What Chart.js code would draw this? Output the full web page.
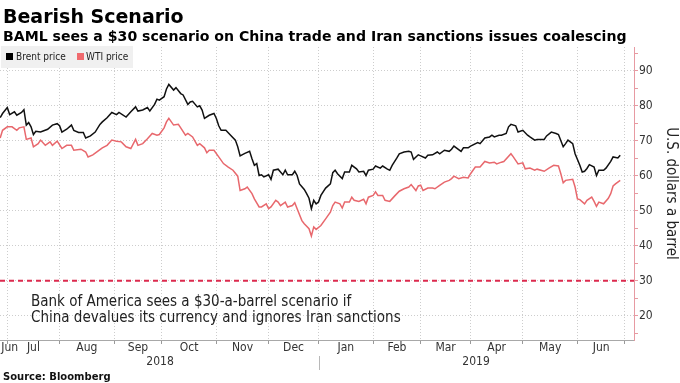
<!DOCTYPE html>
<html><head><meta charset="utf-8">
<script src="https://cdn.jsdelivr.net/npm/chart.js@4.4.1/dist/chart.umd.min.js"></script>
<style>
html,body{margin:0;padding:0;background:#fff;}
#wrap{position:relative;width:680px;height:383px;overflow:hidden;}
canvas{position:absolute;left:0;top:0;}
.t{position:absolute;white-space:nowrap;line-height:1;color:#000;}
#title{left:3px;top:5px;font:bold 19px "DejaVu Sans",sans-serif;}
#sub{left:3px;top:28px;font:bold 14.1px "DejaVu Sans",sans-serif;}
#source{left:3px;top:371px;font:bold 10px "DejaVu Sans",sans-serif;color:#111;}
#legend{position:absolute;left:1px;top:46px;width:132px;height:22px;background:#f0f0f0;}
.sw{position:absolute;top:7px;width:7px;height:7px;}
.lt{position:absolute;top:6px;font:10px "DejaVu Sans Condensed","DejaVu Sans",sans-serif;color:#222;line-height:1;white-space:nowrap;}
#note{left:31px;top:293px;font:15px "DejaVu Sans Condensed","DejaVu Sans",sans-serif;line-height:16px;color:#222;}
</style></head>
<body><div id="wrap">
<canvas id="c" width="680" height="383"></canvas>
<div class="t" id="title">Bearish Scenario</div>
<div class="t" id="sub">BAML sees a $30 scenario on China trade and Iran sanctions issues coalescing</div>
<div id="legend">
  <div class="sw" style="left:5px;background:#000"></div><div class="lt" style="left:15px">Brent price</div>
  <div class="sw" style="left:76px;background:#f06a6e"></div><div class="lt" style="left:85px">WTI price</div>
</div>
<div class="t" id="note">Bank of America sees a $30-a-barrel scenario if<br>China devalues its currency and ignores Iran sanctions</div>
<div class="t" id="source">Source: Bloomberg</div>
</div>
<script>
// x unit: trading days since 1 Jul 2018
const monthStarts = [0,22,45,65,88,110,131,154,174,195,217,240,260];
const monthLabelPos = [1,11,33.5,55,76.5,99,120.5,142.5,164,184.5,206,228.5,250];
const monthLabels = ['Jun','Jul','Aug','Sep','Oct','Nov','Dec','Jan','Feb','Mar','Apr','May','Jun'];
const yearLabelPos = [64.3,197.3];
const yearLabels = ['2018','2019'];
const yearBreak = 131;
const yTicks = [15,20,25,30,35,40,45,50,55,60,65,70,75,80,85,90,95];
const scenarioLevel = 30;

const brentDays = [-3,-2,0,1,3,4,6,7,8,9,10,11,12,14,17,19,21,22,23,25,27,28,30,32,33,35,37,39,40,42,44,46,47,50,52,54,55,57,59,60,62,63,64,66,67,68,70,71,73,74,76,77,78,80,81,82,83,85,87,88,89,90,92,94,96,97,98,100,102,103,104,105,106,107,108,110,111,112,114,115,116,117,118,120,121,122,123,125,126,127,128,129,130,131,132,134,136,137,138,139,141,142,144,145,147,148,150,151,152,154,155,157,158,160,161,162,164,165,167,169,170,171,173,174,176,177,179,181,182,184,186,187,188,191,192,194,195,198,199,201,203,204,205,207,208,210,211,212,214,215,217,219,220,222,223,226,227,229,231,232,234,235,236,238,239,241,242,243,244,245,247,248,249,251,252,254,255,257,258];
const brent = [76.6,77.8,79.5,77.5,78.3,77.3,78.1,78.9,74.5,75.2,74.0,71.8,72.7,72.5,73.3,74.5,74.9,74.3,72.5,73.3,74.5,73.0,72.4,72.4,70.8,71.4,72.5,74.7,75.4,76.6,78.1,77.5,78.1,76.8,78.3,79.7,78.5,78.8,79.5,78.5,80.4,81.9,81.6,82.6,84.8,86.1,84.5,85.2,83.5,83.1,80.4,81.1,81.3,79.7,80.0,78.8,76.4,77.3,77.8,76.4,74.3,73.0,73.0,71.6,70.2,68.3,65.7,66.4,67.0,64.9,63.0,63.5,60.1,60.3,59.7,60.3,59.0,61.6,61.9,61.1,60.3,61.6,60.3,60.3,61.3,60.1,57.7,56.1,54.9,53.6,50.6,53.0,52.0,52.5,54.4,56.5,57.7,60.9,61.6,60.6,59.2,61.1,61.1,63.0,62.0,61.1,61.3,60.1,61.6,61.9,62.8,62.2,62.8,61.9,61.6,63.0,65.1,66.3,66.8,67.0,66.8,64.7,66.0,65.7,65.1,65.9,66.0,66.8,66.3,67.3,67.0,67.6,68.5,67.0,68.0,68.0,68.5,69.5,69.2,70.8,71.1,71.6,71.1,71.6,71.6,72.1,74.0,74.7,74.3,72.5,73.0,71.6,71.1,70.2,70.4,70.4,71.4,72.5,72.1,71.8,68.3,69.2,70.2,69.2,66.3,63.0,61.1,61.3,62.1,63.2,62.5,60.1,61.6,61.6,62.2,64.1,65.4,65.1,65.9];

const wtiDays = [-3,-2,0,2,4,5,7,8,10,11,13,14,16,18,19,21,23,25,27,28,31,33,34,36,38,40,42,44,46,48,50,52,54,55,57,59,61,63,64,66,67,68,70,72,73,75,76,78,80,81,83,84,85,87,89,91,93,95,97,98,100,101,103,104,106,107,109,110,111,113,114,115,117,118,120,121,122,124,125,127,128,129,130,132,134,136,137,138,140,141,142,144,145,146,148,150,151,152,154,155,156,158,159,161,163,165,167,169,170,172,173,174,175,177,179,180,182,184,186,187,188,190,192,194,195,197,199,201,203,205,206,208,209,212,213,215,217,218,220,222,223,226,228,230,232,233,234,235,238,239,240,241,243,244,246,247,248,249,251,253,254,255,256,258];
const wti = [70.8,73.0,74.0,74.0,73.0,73.7,74.0,70.4,70.8,68.3,69.2,70.2,68.7,69.7,68.7,69.9,67.8,68.7,68.7,67.3,67.6,66.8,65.4,66.0,67.0,68.0,68.7,70.2,69.9,69.7,68.3,67.8,70.4,68.7,69.2,70.6,72.1,71.6,71.8,73.7,75.4,76.4,74.5,74.7,73.7,71.6,72.1,71.1,68.7,69.2,68.0,66.6,67.3,67.3,65.4,63.5,62.5,61.6,59.9,55.8,56.3,56.8,54.9,53.4,51.1,51.1,52.0,50.6,51.1,53.0,52.5,51.5,52.5,51.1,51.5,52.3,50.6,47.2,46.3,44.9,42.8,45.4,44.7,45.8,47.7,49.6,51.5,52.5,52.0,50.8,52.5,52.5,53.9,53.0,52.7,53.3,52.0,53.9,54.4,55.4,54.4,54.4,53.0,52.7,54.2,55.6,56.3,56.8,57.5,55.8,57.1,57.3,55.8,56.5,56.5,56.3,57.3,58.2,58.7,59.2,59.9,59.2,59.6,59.4,60.6,62.5,62.5,64.1,63.7,63.9,63.4,63.9,64.1,66.3,65.4,63.4,63.7,62.0,62.2,61.6,61.9,61.3,62.2,63.0,62.8,60.6,58.0,58.7,59.0,56.8,53.4,53.2,52.0,53.0,53.9,52.7,51.3,52.5,52.0,53.6,54.9,57.1,57.7,58.7];

const xMin = -3.07, xMax = 263.8;
const yMin = 13.1, yMax = 96.8;

const FONT = '"DejaVu Sans Condensed","DejaVu Sans",sans-serif';
const labelMap = new Map(monthLabelPos.map((p,i)=>[p, monthLabels[i]]));
const startSet = new Set(monthStarts);
const xTickVals = [...monthStarts, ...monthLabelPos].sort((a,b)=>a-b);

const yearSep = {
  id:'yearSep',
  afterDraw(chart){
    const s = chart.scales.x, ctx = chart.ctx;
    const px = Math.round(s.getPixelForValue(yearBreak)) + 0.5;
    ctx.save(); ctx.strokeStyle = '#b8b8b8'; ctx.lineWidth = 1;
    ctx.beginPath(); ctx.moveTo(px, chart.scales.xy.top); ctx.lineTo(px, chart.scales.xy.bottom); ctx.stroke();
    ctx.restore();
  }
};

new Chart(document.getElementById('c'), {
  type:'line',
  data:{datasets:[
    {label:'Brent price', data: brentDays.map((d,i)=>({x:d,y:brent[i]})), borderColor:'#111', borderWidth:1.5, pointRadius:0, tension:0},
    {label:'WTI price', data: wtiDays.map((d,i)=>({x:d,y:wti[i]})), borderColor:'#e8686d', borderWidth:1.5, pointRadius:0, tension:0},
    {label:'scenario', data:[{x:xMin,y:scenarioLevel},{x:xMax,y:scenarioLevel}], borderColor:'#dc2a4e', borderWidth:2, borderDash:[5,4], pointRadius:0}
  ]},
  options:{
    responsive:false, animation:false, devicePixelRatio:1,
    layout:{padding:{top:47,left:0,right:0,bottom:13}},
    plugins:{legend:{display:false}, tooltip:{enabled:false}},
    scales:{
      x:{type:'linear', position:'bottom', min:xMin, max:xMax, weight:0,
        afterBuildTicks:s=>{s.ticks = xTickVals.map(v=>({value:v}));},
        afterFit:s=>{s.height=16;},
        ticks:{autoSkip:false, maxRotation:0, minRotation:0, padding:-3, color:'#333', font:{family:FONT,size:12},
          callback:v=>labelMap.has(v)?labelMap.get(v):''},
        grid:{color:c=>(c.tick && startSet.has(c.tick.value))?'#cdcdcd':'rgba(0,0,0,0)', lineWidth:1, tickLength:4,
          tickColor:c=>(c.tick && startSet.has(c.tick.value))?'#9a9a9a':'rgba(0,0,0,0)', tickBorderDash:[]},
        border:{color:'#a8a8a8', width:1, dash:[1,2]}
      },
      xy:{type:'linear', position:'bottom', min:xMin, max:xMax, weight:1,
        afterBuildTicks:s=>{s.ticks = yearLabelPos.map(v=>({value:v}));},
        afterFit:s=>{s.height=14;},
        ticks:{autoSkip:false, maxRotation:0, minRotation:0, padding:-1, color:'#333', font:{family:FONT,size:12},
          callback:(v,i)=>yearLabels[i]},
        grid:{display:false, drawTicks:false}, border:{display:false}
      },
      y:{type:'linear', position:'right', min:yMin, max:yMax,
        afterBuildTicks:s=>{s.ticks = yTicks.map(v=>({value:v}));},
        afterFit:s=>{s.width=46;},
        ticks:{padding:1, color:'#333', font:{family:FONT,size:12}, callback:v=>(v%10===0)?String(v):''},
        grid:{color:c=>(c.tick && c.tick.value%10===0)?'#cdcdcd':'rgba(0,0,0,0)', tickLength:4, tickColor:'#e79aa2', tickBorderDash:[]},
        border:{color:'#e79aa2', width:1, dash:[1,2]},
        title:{display:true, text:'U.S. dollars a barrel', color:'#222', font:{family:FONT,size:15}, padding:0}
      }
    }
  },
  plugins:[yearSep]
});
</script>
</body></html>
